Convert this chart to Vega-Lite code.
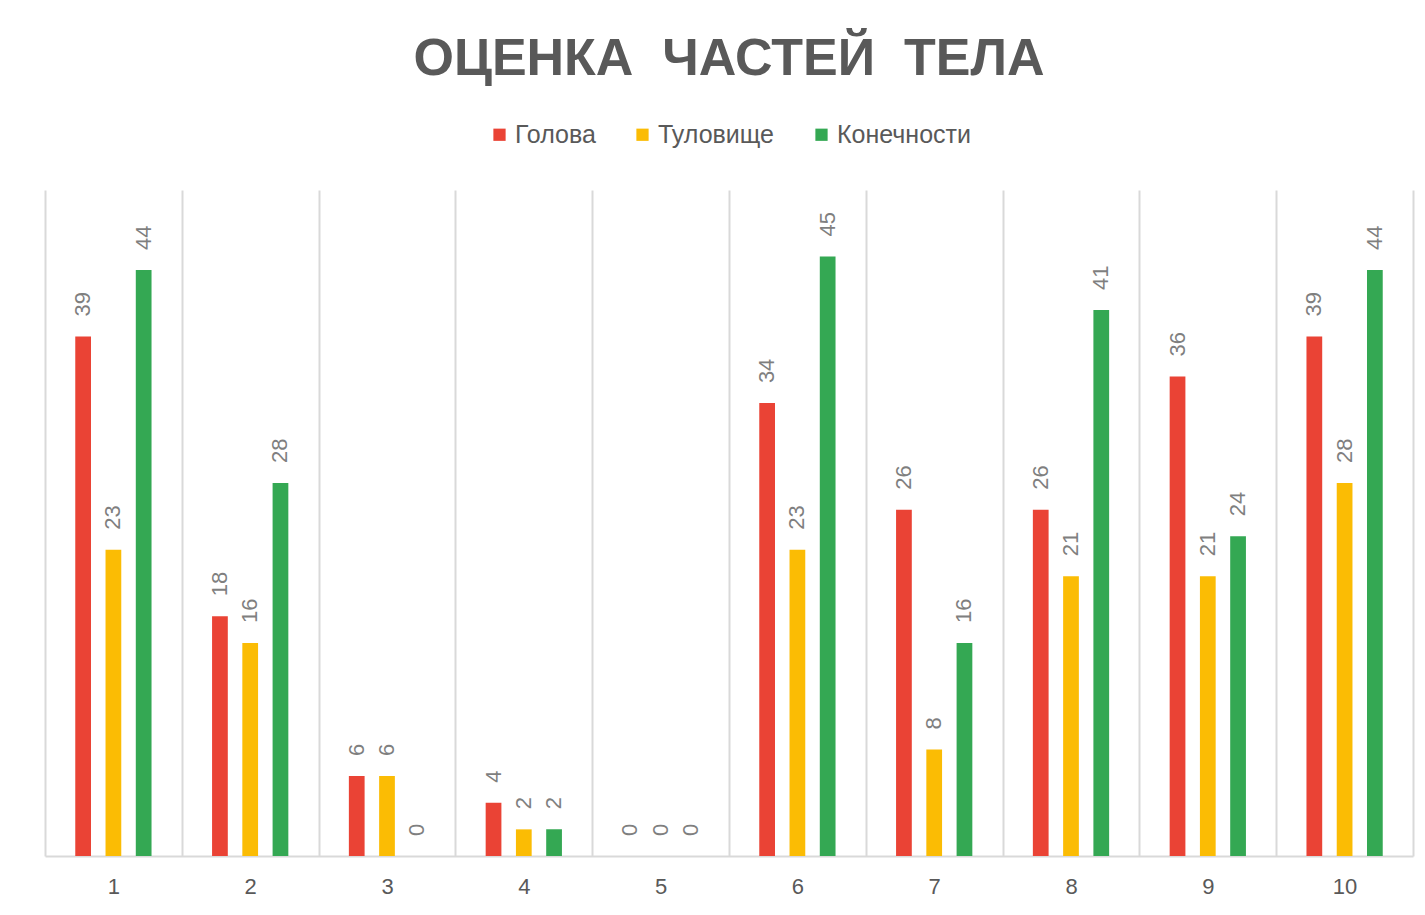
{
  "$schema": "https://vega.github.io/schema/vega-lite/v6.json",
  "width": 1368,
  "height": 666,
  "autosize": {"type": "none"},
  "padding": {"left": 45, "top": 190, "right": 12, "bottom": 59},
  "background": "white",
  "title": {
    "text": "ОЦЕНКА\u00a0\u00a0ЧАСТЕЙ\u00a0\u00a0ТЕЛА",
    "font": "Liberation Sans",
    "fontSize": 52,
    "fontWeight": "bold",
    "color": "#595959",
    "anchor": "middle",
    "frame": "group",
    "offset": 36
  },
  "config": {
    "view": {"stroke": null},
    "legend": {"layout": {"top": {"anchor": "middle"}}}
  },
  "data": {
    "values": [
      {"cat": 1, "part": "Голова", "v": 39},
      {"cat": 1, "part": "Туловище", "v": 23},
      {"cat": 1, "part": "Конечности", "v": 44},
      {"cat": 2, "part": "Голова", "v": 18},
      {"cat": 2, "part": "Туловище", "v": 16},
      {"cat": 2, "part": "Конечности", "v": 28},
      {"cat": 3, "part": "Голова", "v": 6},
      {"cat": 3, "part": "Туловище", "v": 6},
      {"cat": 3, "part": "Конечности", "v": 0},
      {"cat": 4, "part": "Голова", "v": 4},
      {"cat": 4, "part": "Туловище", "v": 2},
      {"cat": 4, "part": "Конечности", "v": 2},
      {"cat": 5, "part": "Голова", "v": 0},
      {"cat": 5, "part": "Туловище", "v": 0},
      {"cat": 5, "part": "Конечности", "v": 0},
      {"cat": 6, "part": "Голова", "v": 34},
      {"cat": 6, "part": "Туловище", "v": 23},
      {"cat": 6, "part": "Конечности", "v": 45},
      {"cat": 7, "part": "Голова", "v": 26},
      {"cat": 7, "part": "Туловище", "v": 8},
      {"cat": 7, "part": "Конечности", "v": 16},
      {"cat": 8, "part": "Голова", "v": 26},
      {"cat": 8, "part": "Туловище", "v": 21},
      {"cat": 8, "part": "Конечности", "v": 41},
      {"cat": 9, "part": "Голова", "v": 36},
      {"cat": 9, "part": "Туловище", "v": 21},
      {"cat": 9, "part": "Конечности", "v": 24},
      {"cat": 10, "part": "Голова", "v": 39},
      {"cat": 10, "part": "Туловище", "v": 28},
      {"cat": 10, "part": "Конечности", "v": 44}
    ]
  },
  "encoding": {
    "x": {
      "field": "cat",
      "type": "ordinal",
      "scale": {"paddingInner": 0, "paddingOuter": 0},
      "axis": {
        "title": null,
        "labelAngle": 0,
        "tickBand": "extent",
        "grid": true,
        "gridColor": "#d9d9d9",
        "gridWidth": 2,
        "ticks": false,
        "domainColor": "#d9d9d9",
        "domainWidth": 2,
        "labelFont": "Liberation Sans",
        "labelFontSize": 22,
        "labelColor": "#595959",
        "labelPadding": 20
      }
    },
    "xOffset": {
      "field": "part",
      "type": "nominal",
      "sort": ["Голова", "Туловище", "Конечности"],
      "scale": {"paddingInner": 0.48, "paddingOuter": 1.2}
    },
    "y": {
      "field": "v",
      "type": "quantitative",
      "scale": {"domain": [0, 50]},
      "axis": null
    }
  },
  "layer": [
    {
      "mark": {"type": "bar"},
      "encoding": {
        "color": {
          "field": "part",
          "type": "nominal",
          "sort": ["Голова", "Туловище", "Конечности"],
          "scale": {
            "domain": ["Голова", "Туловище", "Конечности"],
            "range": ["#ea4335", "#fbbc04", "#34a853"]
          },
          "legend": {
            "title": null,
            "orient": "top",
            "direction": "horizontal",
            "offset": 42,
            "symbolType": "square",
            "symbolSize": 150,
            "symbolStrokeWidth": 0,
            "symbolOpacity": 1,
            "labelFont": "Liberation Sans",
            "labelFontSize": 25,
            "labelColor": "#595959",
            "columnPadding": 34,
            "labelOffset": 3
          }
        }
      }
    },
    {
      "mark": {
        "type": "text",
        "angle": 270,
        "align": "left",
        "baseline": "middle",
        "dx": 20,
        "font": "Liberation Sans",
        "fontSize": 22,
        "color": "#7f7f7f"
      },
      "encoding": {"text": {"field": "v", "type": "quantitative"}}
    }
  ]
}
